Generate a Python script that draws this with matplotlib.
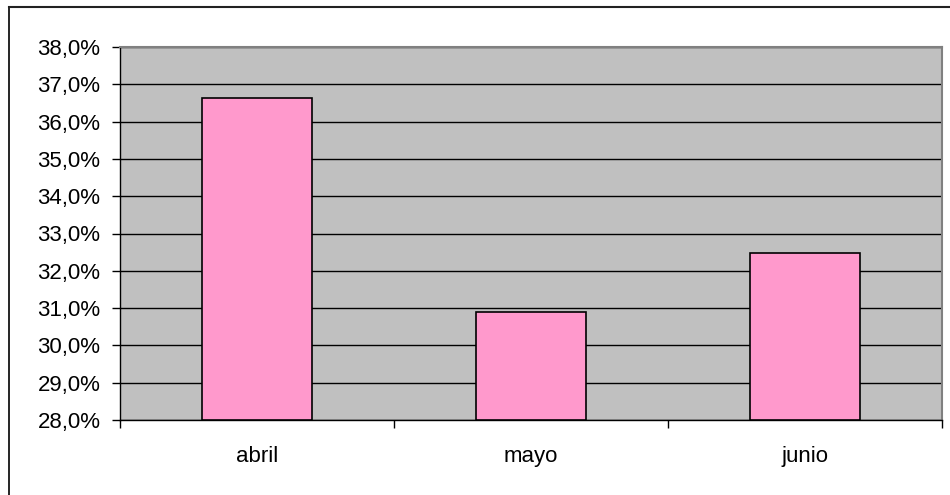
import matplotlib
matplotlib.use("Agg")
import matplotlib.pyplot as plt
from matplotlib.ticker import FuncFormatter, MultipleLocator

categories = ["abril", "mayo", "junio"]
values = [36.64, 30.89, 32.47]

plt.rcParams['font.family'] = ['Liberation Sans', 'DejaVu Sans']

W, H = 950, 495
fig = plt.figure(figsize=(W/100, H/100), dpi=100)
fig.patch.set_facecolor('white')

# outer frame (only left and top edges visible in the picture)
fig.add_artist(plt.Line2D([9/W, 9/W], [0, 1-7/H], transform=fig.transFigure,
                          color='black', linewidth=1.2))
fig.add_artist(plt.Line2D([9/W, 1], [1-7/H, 1-7/H], transform=fig.transFigure,
                          color='#222222', linewidth=1.5))

left, right, top, bottom = 120, 942, 47, 420
ax = fig.add_axes([left/W, 1-bottom/H, (right-left)/W, (bottom-top)/H])
ax.set_facecolor('#c0c0c0')

x = list(range(len(categories)))
ax.bar(x, [v - 28 for v in values], bottom=28, width=0.4, color='#ff99cc',
       edgecolor='black', linewidth=1.2, zorder=3)

ax.set_xlim(-0.5, len(categories) - 0.5)
ax.set_ylim(28, 38)
ax.yaxis.set_major_locator(MultipleLocator(1))
ax.yaxis.set_major_formatter(FuncFormatter(lambda v, p: f"{v:.1f}%".replace('.', ',')))
ax.grid(axis='y', color='black', linewidth=1.0, zorder=1)

ax.set_xticks([-0.5, 0.5, 1.5, 2.5])
ax.set_xticklabels([])
ax.set_xticks(x, minor=True)
ax.set_xticklabels(categories, minor=True)
ax.tick_params(axis='x', which='minor', length=0, pad=19, labelsize=16)
ax.tick_params(axis='x', which='major', length=6, width=1, direction='out')
ax.tick_params(axis='y', length=6, width=1, direction='out', labelsize=16, pad=8)

for s in ['left', 'bottom']:
    ax.spines[s].set_color('black')
    ax.spines[s].set_linewidth(1)
for s in ['right', 'top']:
    ax.spines[s].set_color('#808080')
    ax.spines[s].set_linewidth(1.5)

fig.savefig('out.png', dpi=100)
